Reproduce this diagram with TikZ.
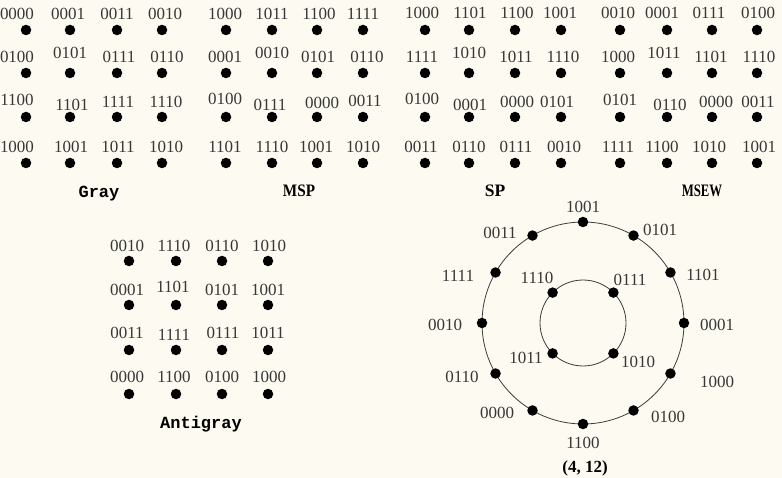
\documentclass[tikz,border=0pt]{standalone}
\usepackage{fontspec}
\setmainfont{Liberation Serif}
\newfontfamily\monof{Liberation Mono}
\definecolor{bgc}{RGB}{253,251,241}
\definecolor{labc}{RGB}{55,55,55}
\definecolor{linec}{RGB}{60,60,60}
\begin{document}
\begin{tikzpicture}[x=1pt,y=-1pt,
  dot/.style={circle,fill=black,inner sep=0pt,minimum size=10.5pt},
  lab/.style={font=\fontsize{17}{17}\selectfont,text=labc,inner sep=0pt,text height=11.5pt,text depth=0pt},
  ttl/.style={font=\fontsize{17.5}{17.5}\selectfont\bfseries,text=black,inner sep=0pt,anchor=base,transform shape},
  mttl/.style={font=\fontsize{17}{17}\selectfont\monof\bfseries,text=black,inner sep=0pt,anchor=base},
  ring/.style={draw=linec,line width=0.8pt}]
\fill[bgc] (0,0) rectangle (782,478);
\useasboundingbox (0,0) rectangle (782,478);
% dots of the grids
\foreach \cx [count=\i] in {26,70,117,162}
  \foreach \ry [count=\j] in {30,73,117,163}
    \node[dot] (g\i\j) at (\cx,\ry) {};
\foreach \cx [count=\i] in {226,272,317,363}
  \foreach \ry [count=\j] in {30,73,117,163}
    \node[dot] (m\i\j) at (\cx,\ry) {};
\foreach \cx [count=\i] in {425,469,515,561}
  \foreach \ry [count=\j] in {30,73,117,163}
    \node[dot] (s\i\j) at (\cx,\ry) {};
\foreach \cx [count=\i] in {620,667,712,757}
  \foreach \ry [count=\j] in {30,73,117,163}
    \node[dot] (w\i\j) at (\cx,\ry) {};
\foreach \cx [count=\i] in {129,176,222,268}
  \foreach \ry [count=\j] in {261,305,350,394}
    \node[dot] (a\i\j) at (\cx,\ry) {};
% Gray labels
\foreach \x/\y/\t [count=\n] in {17/14/0000,68/14/0001,117/14/0011,165/14/0010,
  17/57/0100,70/53/0101,119/57/0111,167/57/0110,
  17/100/1100,72/105/1101,118/102/1111,166/102/1110,
  17/147/1000,71/147/1001,118/147/1011,166/147/1010}
  \node[lab] (gl\n) at (\x,\y) {\t};
% MSP labels
\foreach \x/\y/\t [count=\n] in {225/14/1000,272/14/1011,319/14/1100,363/14/1111,
  225/57/0001,272/53/0010,318/57/0101,367/57/0110,
  225/99/0100,270/105/0111,322/103/0000,365/101/0011,
  225/147/1101,272/147/1110,316/147/1001,363/147/1010}
  \node[lab] (ml\n) at (\x,\y) {\t};
% SP labels
\foreach \x/\y/\t [count=\n] in {422/13/1000,470/13/1101,517/13/1100,560/13/1001,
  422/57/1111,469/53/1010,516/57/1011,563/57/1110,
  422/99/0100,470/105/0001,517/102/0000,557/102/0101,
  421/147/0011,469/147/0110,516/147/0111,564/147/0010}
  \node[lab] (sl\n) at (\x,\y) {\t};
% MSEW labels
\foreach \x/\y/\t [count=\n] in {618/13/0010,662/13/0001,709/13/0111,758/13/0100,
  618/57/1000,664/53/1011,711/57/1101,759/57/1110,
  620/100/0101,670/105/0110,716/102/0000,758/102/0011,
  618/147/1111,662/147/1100,709/147/1010,759/147/1001}
  \node[lab] (wl\n) at (\x,\y) {\t};
% Antigray labels
\foreach \x/\y/\t [count=\n] in {127/246/0010,174/246/1110,222/246/0110,269/246/1010,
  127/290/0001,173/287/1101,222/290/0101,268/290/1001,
  127/333/0011,174/335/1111,223/333/0111,268/333/1011,
  127/377/0000,174/377/1100,222/377/0100,269/377/1000}
  \node[lab] (al\n) at (\x,\y) {\t};
% titles
\node[mttl] (tgray) at (99,198) {Gray};
\node[ttl,xscale=0.87] (tmsp) at (299,196.5) {MSP};
\node[ttl] (tsp) at (495,197) {SP};
\node[ttl,xscale=0.73] (tmsew) at (702,197) {MSEW};
\node[mttl] (tanti) at (201,428) {Antigray};
\node[ttl,font=\fontsize{17}{17}\selectfont\bfseries] (tring) at (585,472.5) {(4, 12)};
% rings
\coordinate (c) at (583,323);
\draw[ring] (c) circle[radius=101pt];
\draw[ring] (c) circle[radius=43pt];
\foreach \a/\t/\lx/\ly [count=\n] in {90/1001/583/207,60/0101/660/230,30/1101/703/275,
  0/0001/717/325,-30/1000/717/382,-60/0100/668/417,-90/1100/583/443,
  -120/0000/497/413,-150/0110/462/377,180/0010/445/325,150/1111/458/276,120/0011/500/233}
{
  \node[dot] (o\n) at ([shift={(\a:101pt)}]c) {};
  \node[lab] (ol\n) at (\lx,\ly) {\t};
}
\foreach \a/\t/\lx/\ly [count=\n] in {135/1110/537/278,45/0111/630/280,225/1011/526/358,-45/1010/638/362}
{
  \node[dot] (i\n) at ([shift={(\a:43pt)}]c) {};
  \node[lab] (il\n) at (\lx,\ly) {\t};
}
\end{tikzpicture}
\end{document}
